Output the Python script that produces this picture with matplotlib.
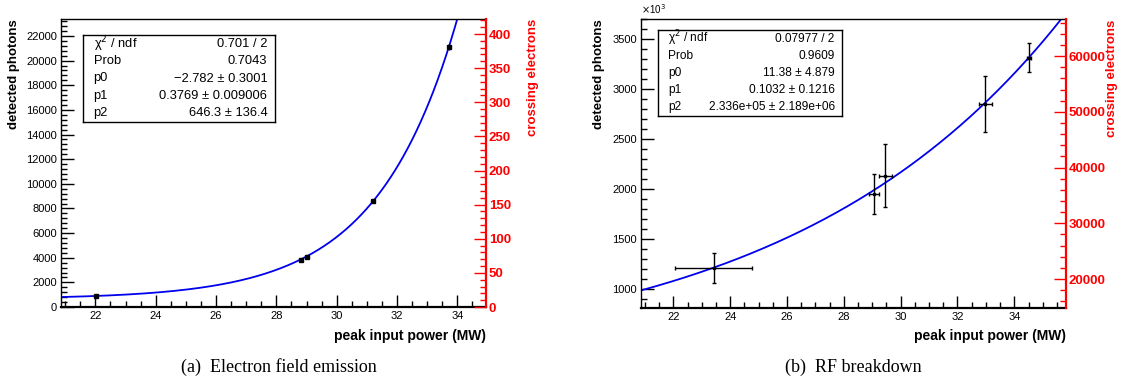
import numpy as np
import matplotlib
matplotlib.use("Agg")
import matplotlib.pyplot as plt
from matplotlib.ticker import MultipleLocator

plt.rcParams['font.family'] = ['Liberation Sans', 'DejaVu Sans']

# ---------------- data: (a) electron field emission ----------------
a_power = [22.02, 28.83, 29.00, 31.19, 33.72]
a_power_err = [0.04, 0.04, 0.04, 0.05, 0.05]
a_photons = [904, 3836, 4055, 8630, 21100]
a_photons_err = [120, 100, 110, 160, 220]
a_fit = [-2.782, 0.3769, 646.3]   # p0, p1, p2 : p2 + exp(p0 + p1*x)
a_stats = [("χ$^2$ / ndf", "0.701 / 2"), ("Prob", "0.7043"),
           ("p0", "−2.782 ± 0.3001"), ("p1", "0.3769 ± 0.009006"),
           ("p2", "646.3 ± 136.4")]

# ---------------- data: (b) RF breakdown (photons in units of 10^3) ----------------
b_power = [23.42, 29.06, 29.46, 32.98, 34.52]
b_power_err = [1.36, 0.18, 0.22, 0.23, 0.08]
b_photons = [1213, 1955, 2136, 2850, 3313]
b_photons_err = [153, 200, 315, 280, 145]
b_fit = [11.38, 0.1032, 2.336e5]
b_stats = [("χ$^2$ / ndf", "0.07977 / 2"), ("Prob", "0.9609"),
           ("p0", "11.38 ± 4.879"), ("p1", "0.1032 ± 0.1216"),
           ("p2", "2.336e+05 ± 2.189e+06")]

captions = ["(a)  Electron field emission", "(b)  RF breakdown"]

W, H = 1125, 379
fig = plt.figure(figsize=(W / 100, H / 100), dpi=100)


def px_axes(l, t, r, b):
    return fig.add_axes([l / W, 1 - b / H, (r - l) / W, (b - t) / H])


def style_axes(ax, axr, xlim, ylim, yrlim, ymaj, ymin, yrmaj, yrmin):
    ax.set_xlim(*xlim)
    ax.set_ylim(*ylim)
    axr.set_ylim(*yrlim)
    ax.xaxis.set_major_locator(MultipleLocator(2))
    ax.xaxis.set_minor_locator(MultipleLocator(0.5))
    ax.yaxis.set_major_locator(MultipleLocator(ymaj))
    ax.yaxis.set_minor_locator(MultipleLocator(ymin))
    axr.yaxis.set_major_locator(MultipleLocator(yrmaj))
    axr.yaxis.set_minor_locator(MultipleLocator(yrmin))
    ax.tick_params(which='both', direction='in', top=False, right=False,
                   labelsize=8, width=1, pad=3)
    ax.tick_params(which='major', length=9)
    ax.tick_params(which='minor', length=4.5)
    axr.tick_params(which='both', direction='in', colors='red', width=1,
                    labelsize=9.5, pad=2)
    axr.tick_params(which='major', length=9)
    axr.tick_params(which='minor', length=4.5)
    for lab in axr.get_yticklabels():
        lab.set_fontweight('bold')
    for s in ['left', 'top', 'bottom']:
        ax.spines[s].set_linewidth(1.0)
    ax.spines['bottom'].set_linewidth(1.6)
    axr.spines['right'].set_color('red')
    axr.spines['right'].set_linewidth(1.6)
    ax.spines['right'].set_visible(False)
    for s in ['left', 'top', 'bottom']:
        axr.spines[s].set_visible(False)
    ax.set_xlabel("peak input power (MW)", fontsize=10, fontweight='bold',
                  loc='right')
    ax.set_ylabel("detected photons", fontsize=9.5, fontweight='bold',
                  loc='top')
    axr.set_ylabel("crossing electrons", fontsize=9.5, fontweight='bold',
                   color='red', loc='top')


def stats_box(rows, x0, y0, x1, y1, fs):
    # box given in figure pixels
    bx = fig.add_axes([x0 / W, 1 - y1 / H, (x1 - x0) / W, (y1 - y0) / H])
    bx.set_xlim(0, 1)
    bx.set_ylim(0, 1)
    bx.set_xticks([])
    bx.set_yticks([])
    for s in bx.spines.values():
        s.set_linewidth(1.0)
    n = len(rows)
    for i, (k, v) in enumerate(rows):
        yy = 1 - (i + 0.5) / n
        bx.text(0.055, yy, k, fontsize=fs, va='center', ha='left')
        bx.text(0.96, yy, v, fontsize=fs, va='center', ha='right')


# ---------- panel (a) ----------
axa = px_axes(61, 19, 486, 307)
axar = axa.twinx()
xa = (20.86, 34.95)
style_axes(axa, axar, xa, (0, 23380), (0, 422), 2000, 400, 50, 10)
xs = np.linspace(xa[0], xa[1], 600)
ys = a_fit[2] + np.exp(a_fit[0] + a_fit[1] * xs)
axa.plot(xs, ys, color='#0000ee', lw=1.3, zorder=2)
axa.errorbar(a_power, a_photons, xerr=a_power_err, yerr=a_photons_err,
             fmt='s', ms=2.5, color='black', ecolor='black', elinewidth=1,
             capsize=0, zorder=3)
stats_box(a_stats, 83, 35, 275, 122, 9.3)
axa.yaxis.set_label_coords(-0.096, 1.0)
axar.yaxis.set_label_coords(1.096, 1.0)
axa.xaxis.set_label_coords(1.0, -0.075)

# ---------- panel (b) ----------
axb = px_axes(641, 19.3, 1066, 307.5)
axbr = axb.twinx()
xb = (20.86, 35.82)
style_axes(axb, axbr, xb, (816, 3700), (14900, 66600), 500, 100, 10000, 2000)
xs = np.linspace(xb[0], xb[1], 600)
ys = (b_fit[2] + np.exp(b_fit[0] + b_fit[1] * xs)) / 1e3
axb.plot(xs, ys, color='#0000ee', lw=1.3, zorder=2)
axb.errorbar(b_power, b_photons, xerr=b_power_err, yerr=b_photons_err,
             fmt='s', ms=2, color='black', ecolor='black', elinewidth=1,
             capsize=1.5, capthick=1, zorder=3)
stats_box(b_stats, 658, 30, 842, 116, 8.6)
axb.text(0.0, 1.01, r"$\times$10$^3$", transform=axb.transAxes, fontsize=7,
         ha='left', va='bottom')
axb.yaxis.set_label_coords(-0.085, 1.0)
axbr.yaxis.set_label_coords(1.094, 1.0)
axb.xaxis.set_label_coords(1.0, -0.075)

# ---------- captions ----------
fig.text(279 / W, 1 - 367 / H, captions[0], fontsize=13,
         family=['Liberation Serif', 'DejaVu Serif'], ha='center', va='center')
fig.text(853 / W, 1 - 367 / H, captions[1], fontsize=13,
         family=['Liberation Serif', 'DejaVu Serif'], ha='center', va='center')

fig.savefig("out.png", dpi=100)
